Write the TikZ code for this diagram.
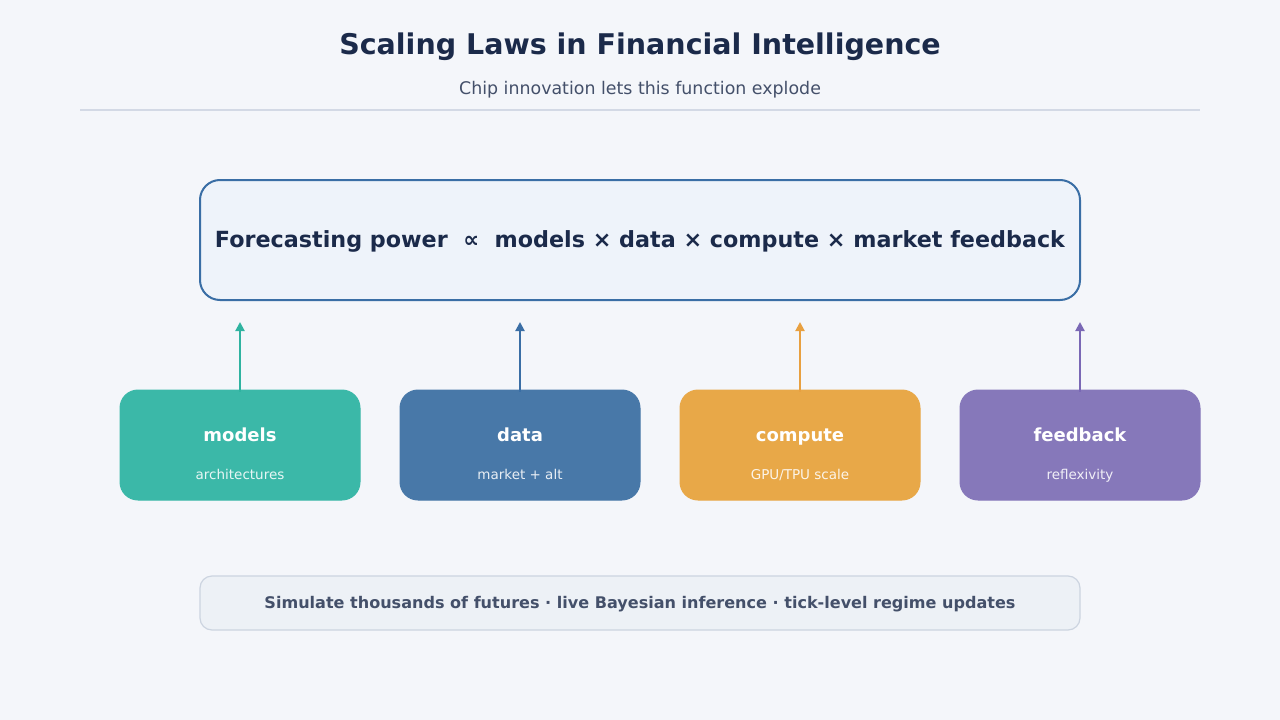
\documentclass[tikz,border=0pt]{standalone}
\usepackage{fontspec}
\setmainfont{DejaVu Sans}
\usetikzlibrary{arrows.meta}
\definecolor{bg}{HTML}{F4F6FA}
\definecolor{navy}{HTML}{1B2A4A}
\definecolor{slate}{HTML}{44506A}
\definecolor{rulec}{HTML}{D3D9E5}
\definecolor{mainfill}{HTML}{EEF3FA}
\definecolor{mainline}{HTML}{3A6EA5}
\definecolor{teal}{HTML}{3BB8A8}
\definecolor{tealline}{HTML}{2FB3A0}
\definecolor{blueb}{HTML}{4878A8}
\definecolor{bluel}{HTML}{3A6EA5}
\definecolor{orangeb}{HTML}{E8A848}
\definecolor{orangel}{HTML}{E8A040}
\definecolor{purpleb}{HTML}{8678BA}
\definecolor{purplel}{HTML}{7A68B5}
\definecolor{barfill}{HTML}{EDF1F6}
\definecolor{barline}{HTML}{CCD4E0}
\tikzset{
  factor/.style={draw=#1, fill=#1, line width=1pt, rounded corners=18pt,
    minimum width=240pt, minimum height=110pt, inner sep=0pt},
  factorname/.style={anchor=base, text=white, font=\bfseries\fontsize{18}{21}\selectfont},
  factorsub/.style={anchor=base, text=white, text opacity=0.88, font=\fontsize{13.5}{16}\selectfont},
  uparrow/.style={draw=#1, line width=2pt, -{Triangle[length=9pt,width=9pt]}},
}
\begin{document}
\begin{tikzpicture}[x=1pt,y=-1pt]
\fill[bg] (0,0) rectangle (1280,720);
\useasboundingbox (0,0) rectangle (1280,720);
\node[anchor=base, text=navy, font=\bfseries\fontsize{28.5}{33}\selectfont] (title) at (640,54) {Scaling Laws in Financial Intelligence};
\node[anchor=base, text=slate, font=\fontsize{17.4}{20}\selectfont] (subtitle) at (640,94) {Chip innovation lets this function explode};
\draw[rulec, line width=1.5pt] (80,110) coordinate (rl) -- (1200,110) coordinate (rr);
\node[draw=mainline, fill=mainfill, line width=2pt, rounded corners=20pt,
  minimum width=880pt, minimum height=120pt, inner sep=0pt] (main) at (640,240) {};
\node[anchor=base, text=navy, font=\bfseries\fontsize{21}{25}\selectfont] (formula) at (640,247)
  {\resizebox{850pt}{!}{Forecasting power \ ∝ \ models × data × compute × market feedback}};
\node[factor=teal] (models) at (240,445) {};
\node[factor=blueb] (data) at (520,445) {};
\node[factor=orangeb] (compute) at (800,445) {};
\node[factor=purpleb] (feedback) at (1080,445) {};
\node[factorname] (mt) at (240,441) {models};
\node[factorsub] (ms) at (240,479) {architectures};
\node[factorname] (dt) at (520,441) {data};
\node[factorsub] (ds) at (520,479) {market + alt};
\node[factorname] (ct) at (800,441) {compute};
\node[factorsub] (cs) at (800,479.5) {GPU/TPU scale};
\node[factorname] (ft) at (1080,441) {feedback};
\node[factorsub] (fs) at (1080,479.5) {reflexivity};
\coordinate (ma) at (240,322);
\coordinate (da) at (520,322);
\coordinate (ca) at (800,322);
\coordinate (fa) at (1080,322);
\draw[uparrow=tealline] ([yshift=-2pt]models.north) -- (ma);
\draw[uparrow=bluel] ([yshift=-2pt]data.north) -- (da);
\draw[uparrow=orangel] ([yshift=-2pt]compute.north) -- (ca);
\draw[uparrow=purplel] ([yshift=-2pt]feedback.north) -- (fa);
\node[draw=barline, fill=barfill, line width=1.2pt, rounded corners=12pt,
  minimum width=880pt, minimum height=54pt, inner sep=0pt] (bar) at (640,603) {};
\node[anchor=base, text=slate, font=\bfseries\fontsize{15}{18}\selectfont] (bartext) at (640,608)
  {\resizebox{751pt}{!}{Simulate thousands of futures · live Bayesian inference · tick-level regime updates}};
\end{tikzpicture}
\end{document}
